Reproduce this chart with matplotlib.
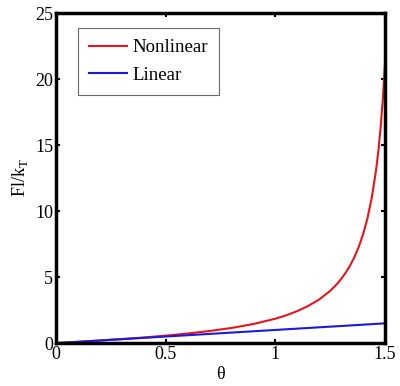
import numpy as np
import matplotlib
matplotlib.use("Agg")
import matplotlib.pyplot as plt

plt.rcParams['font.family'] = ['Liberation Serif', 'DejaVu Serif']
plt.rcParams['mathtext.fontset'] = 'custom'
plt.rcParams['mathtext.rm'] = 'Liberation Serif'

# ===============================
# Data
# ===============================

theta = [0.0, 0.1, 0.2, 0.3, 0.4, 0.5, 0.6, 0.7, 0.8, 0.9, 1.0, 1.05, 1.1, 1.15,
         1.2, 1.25, 1.28, 1.3, 1.32, 1.34, 1.36, 1.38, 1.4, 1.42, 1.44, 1.46,
         1.47, 1.48, 1.49, 1.5]
nonlinear = [0.0, 0.10, 0.20, 0.31, 0.43, 0.57, 0.73, 0.92, 1.15, 1.45, 1.85, 2.11,
             2.43, 2.82, 3.31, 3.96, 4.46, 4.86, 5.32, 5.86, 6.50, 7.28, 8.24,
             9.45, 11.04, 13.20, 14.61, 16.32, 18.46, 21.20]
theta_lin = [0.0, 1.5]
linear = [0.0, 1.5]

# ===============================
# Plot
# ===============================

fig = plt.figure(figsize=(4.0, 3.86), dpi=100)
ax = fig.add_axes([0.14, 0.111, 0.8225, 0.855])

ax.plot(theta, nonlinear, color='#e8141b', lw=1.5, label='Nonlinear')
ax.plot(theta_lin, linear, color='#1a1adc', lw=1.5, label='Linear')

ax.set_xlim(0, 1.5)
ax.set_ylim(0, 25)
ax.set_xticks([0, 0.5, 1, 1.5])
ax.set_xticklabels(['0', '0.5', '1', '1.5'])
ax.set_yticks([0, 5, 10, 15, 20, 25])

for s in ax.spines.values():
    s.set_linewidth(2.5)
ax.tick_params(direction='in', length=3, width=1.5, labelsize=13,
               top=True, right=True, pad=2)

ax.set_xlabel('θ', fontsize=13, labelpad=2)
ax.set_ylabel(r'Fl/k$_\mathrm{T}$', fontsize=13, labelpad=4)

leg = ax.legend(loc='upper left', bbox_to_anchor=(0.067, 0.955), fontsize=13.5,
                frameon=True, fancybox=False, edgecolor='#444444',
                borderaxespad=0, handlelength=2.0, handletextpad=0.3,
                borderpad=0.6, labelspacing=0.55)
leg.get_frame().set_linewidth(0.8)

fig.savefig('out.png', dpi=100)
